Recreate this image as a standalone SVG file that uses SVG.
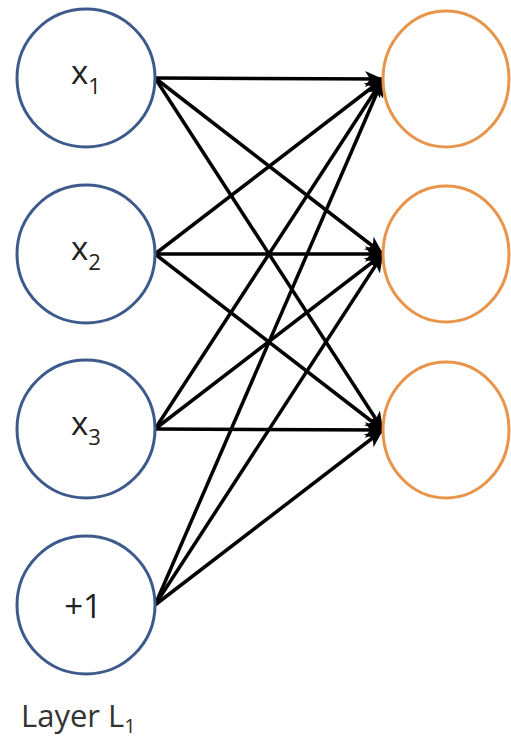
<svg xmlns="http://www.w3.org/2000/svg" width="511" height="740" viewBox="0 0 511 740">
<style>
.in{fill:#fff;stroke:#3d5a8c;stroke-width:3}
.out{fill:#fff;stroke:#e8944a;stroke-width:3}
.lbl{font-family:"Open Sans","Liberation Sans",sans-serif;fill:#222;text-anchor:middle}
.edge{stroke:#000;stroke-width:3.5;fill:none;marker-end:url(#ah)}
</style>
<defs>
<marker id="ah" markerUnits="userSpaceOnUse" markerWidth="20" markerHeight="18" refX="18" refY="9" orient="auto">
<path d="M0,1 L18,9 L0,17 L5,9 z" fill="#000"/>
</marker>
</defs>
<rect width="511" height="740" fill="#fff"/>
<g id="connectors">
<line class="edge" x1="155" y1="78" x2="383" y2="79"/>
<line class="edge" x1="155" y1="78" x2="383" y2="254"/>
<line class="edge" x1="155" y1="78" x2="383" y2="430"/>
<line class="edge" x1="155" y1="254" x2="383" y2="79"/>
<line class="edge" x1="155" y1="254" x2="383" y2="254"/>
<line class="edge" x1="155" y1="254" x2="383" y2="430"/>
<line class="edge" x1="155" y1="429" x2="383" y2="79"/>
<line class="edge" x1="155" y1="429" x2="383" y2="254"/>
<line class="edge" x1="155" y1="429" x2="383" y2="430"/>
<line class="edge" x1="155" y1="605" x2="383" y2="79"/>
<line class="edge" x1="155" y1="605" x2="383" y2="254"/>
<line class="edge" x1="155" y1="605" x2="383" y2="430"/>
</g>
<g id="x1"><circle class="in" cx="86" cy="78" r="69"/><text class="lbl" x="86" y="84" font-size="33">x<tspan font-size="22" dy="10">1</tspan></text></g>
<g id="x2"><circle class="in" cx="86" cy="254" r="69"/><text class="lbl" x="86" y="260" font-size="33">x<tspan font-size="22" dy="10">2</tspan></text></g>
<g id="x3"><circle class="in" cx="86" cy="429" r="69"/><text class="lbl" x="86" y="435" font-size="33">x<tspan font-size="22" dy="10">3</tspan></text></g>
<g id="bias"><circle class="in" cx="86" cy="605" r="69"/><text class="lbl" x="83" y="618" font-size="33">+1</text></g>
<g id="h1"><ellipse class="out" cx="446" cy="79" rx="63" ry="68"/></g>
<g id="h2"><ellipse class="out" cx="446" cy="254" rx="63" ry="68"/></g>
<g id="h3"><ellipse class="out" cx="446" cy="430" rx="63" ry="68"/></g>
<g id="layer-label"><text x="21" y="727" font-family="'Open Sans','Liberation Sans',sans-serif" font-size="31" fill="#333">Layer L<tspan font-size="20" dy="6">1</tspan></text></g>
</svg>
